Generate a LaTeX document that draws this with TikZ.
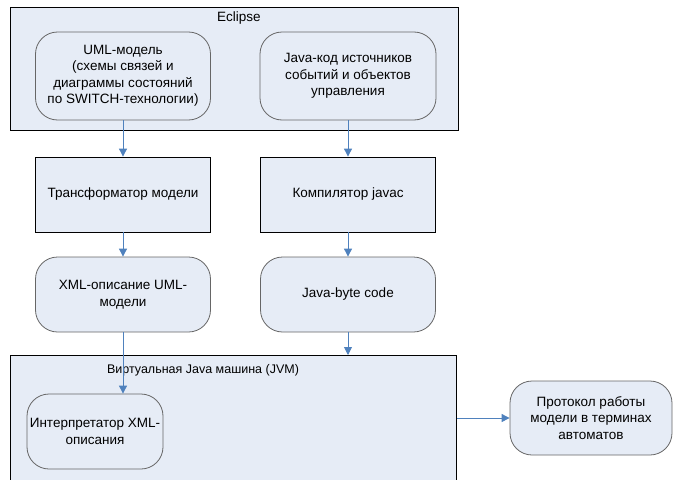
\documentclass[tikz,border=0pt]{standalone}
\usepackage{fontspec}
\setmainfont{Liberation Sans}
\usetikzlibrary{arrows.meta}
\definecolor{panelfill}{RGB}{230,236,246}
\definecolor{flowblue}{RGB}{79,129,189}
\newcommand{\diagFont}{\fontsize{13.5}{16.5}\selectfont}
\newcommand{\titleFont}{\fontsize{12.5}{15}\selectfont}

\begin{document}
\begin{tikzpicture}[x=1pt,y=-1pt,
  frame/.style={draw=black, fill=panelfill, line width=0.8pt, inner sep=0pt},
  block/.style={draw=black, fill=panelfill, line width=0.8pt, align=center, inner sep=2pt, font=\diagFont},
  term/.style={block, draw=black!60, rounded corners=22pt},
  flow/.style={draw=flowblue, line width=0.9pt, -{Triangle[length=8pt,width=8pt]}}]
\useasboundingbox (0,0) rectangle (674,479);
\clip (0,0) rectangle (674,479);
% outer frames
\node[frame, anchor=north west, minimum width=448pt, minimum height=123pt] (eclipse) at (10,7) {};
\node[anchor=center, font=\diagFont] (eclipsetitle) at (239,18) {Eclipse};
\node[frame, anchor=north west, minimum width=446pt, minimum height=160pt] (jvm) at (10,355) {};
\node[anchor=center, font=\titleFont] (jvmtitle) at (203,370) {Виртуальная Java машина (JVM)};
% left column
\node[term, minimum width=175pt, minimum height=88pt] (uml) at (123,76) {UML-модель\\(схемы связей и\\диаграммы состояний\\по SWITCH-технологии)};
\node[block, minimum width=175pt, minimum height=75pt] (transf) at (123,194.5) {Трансформатор модели};
\node[term, minimum width=175pt, minimum height=75pt] (xml) at (123,294.5) {XML-описание UML-\\модели};
\node[term, minimum width=136pt, minimum height=75pt] (interp) at (95,431.5) {Интерпретатор XML-\\описания};
% right column
\node[term, minimum width=176pt, minimum height=88pt] (javasrc) at (348,76) {Java-код источников\\событий и объектов\\управления};
\node[block, minimum width=175pt, minimum height=75pt] (javac) at (348,194.5) {Компилятор javac};
\node[term, minimum width=175pt, minimum height=75pt] (bytecode) at (348,294.5) {Java-byte code};
\node[term, minimum width=162pt, minimum height=74pt] (protocol) at (591,418) {Протокол работы\\модели в терминах\\автоматов};
% connectors
\draw[flow] (uml.south) -- (transf.north);
\draw[flow] (transf.south) -- (xml.north);
\draw[flow] (xml.south) -- (xml.south |- interp.north);
\draw[flow] (javasrc.south) -- (javac.north);
\draw[flow] (javac.south) -- (bytecode.north);
\draw[flow] (bytecode.south) -- (bytecode.south |- jvm.north);
\draw[flow] (jvm.east |- protocol.west) -- (protocol.west);
\end{tikzpicture}
\end{document}
